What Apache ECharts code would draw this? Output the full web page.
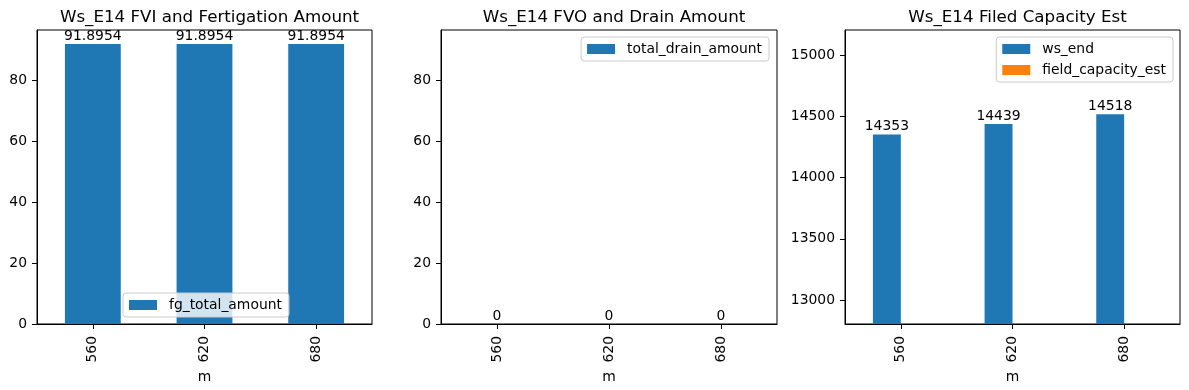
<!DOCTYPE html>
<html>
<head>
<meta charset="utf-8">
<script src="https://cdn.jsdelivr.net/npm/echarts@6/dist/echarts.min.js"></script>
<style>
html,body{margin:0;padding:0;background:#fff;}
#chart{width:1189px;height:390px;}
</style>
</head>
<body>
<div id="chart"></div>
<script>
const categories = ['560', '620', '680'];
const fgTotalAmount = [91.8954, 91.8954, 91.8954];
const totalDrainAmount = [0, 0, 0];
const wsEnd = [14353, 14439, 14518];
const fieldCapacityEst = [null, null, null];
const amountTicks = [0, 20, 40, 60, 80];
const capacityTicks = [13000, 13500, 14000, 14500, 15000];
const titles = ['Ws_E14 FVI and Fertigation Amount', 'Ws_E14 FVO and Drain Amount', 'Ws_E14 Filed Capacity Est'];

const FONT = 'DejaVu Sans';
const FS = 13.9;
const grids = [
  {left: 37, top: 30, width: 335, height: 294},
  {left: 441, top: 30, width: 336, height: 294},
  {left: 845, top: 30, width: 335, height: 294}
];
const yRanges = [[0, 96.49], [0, 96.49], [12804, 15207]];
const yTicks = [amountTicks, amountTicks, capacityTicks];

const chart = echarts.init(document.getElementById('chart'), null, {renderer: 'canvas'});

function legendBox(extra) {
  return Object.assign({
    orient: 'vertical',
    icon: 'rect',
    itemWidth: 28, itemHeight: 10,
    itemGap: 7,
    padding: [5, 7, 5, 6],
    borderColor: '#ccc', borderWidth: 1, borderRadius: 3,
    backgroundColor: 'rgba(255,255,255,0.8)',
    textStyle: {fontFamily: FONT, fontSize: FS, color: '#000', padding: [0, 0, 0, 7]},
    selectedMode: false
  }, extra);
}

const option = {
  animation: false,
  backgroundColor: '#fff',
  textStyle: {fontFamily: FONT, color: '#000'},
  title: titles.map((t, i) => ({
    text: t,
    left: grids[i].left + grids[i].width / 2,
    textAlign: 'center',
    top: 4,
    textStyle: {fontFamily: FONT, fontSize: 16.7, fontWeight: 'normal', color: '#000'}
  })),
  grid: grids.map(g => Object.assign({show: true, borderColor: '#000', borderWidth: 1, backgroundColor: 'transparent'}, g)),
  xAxis: grids.map((g, i) => ({
    type: 'category',
    gridIndex: i,
    data: categories,
    name: 'm',
    nameLocation: 'middle',
    nameGap: 35,
    nameTextStyle: {fontFamily: FONT, fontSize: FS, color: '#000'},
    axisLine: {show: true, lineStyle: {color: '#000', width: 1}},
    axisTick: {show: true, alignWithLabel: true, length: 5, inside: false, lineStyle: {color: '#000'}},
    axisLabel: {rotate: 90, margin: 12, fontFamily: FONT, fontSize: FS, color: '#000'},
    splitLine: {show: false}
  })),
  yAxis: grids.map((g, i) => ({
    type: 'value',
    gridIndex: i,
    min: yRanges[i][0],
    max: yRanges[i][1],
    axisLine: {show: true, lineStyle: {color: '#000', width: 1}},
    axisTick: {show: true, length: 5, lineStyle: {color: '#000'}, customValues: yTicks[i]},
    axisLabel: {margin: 10, fontFamily: FONT, fontSize: FS, color: '#000', customValues: yTicks[i],
      formatter: v => String(v)},
    splitLine: {show: false}
  })),
  legend: [
    legendBox({data: ['fg_total_amount'], left: 123, top: 293}),
    legendBox({data: ['total_drain_amount'], right: 420, top: 37}),
    legendBox({data: ['ws_end', 'field_capacity_est'], right: 16, top: 37})
  ],
  series: [
    {
      name: 'fg_total_amount', type: 'bar', xAxisIndex: 0, yAxisIndex: 0,
      data: fgTotalAmount, barWidth: '50%',
      itemStyle: {color: '#1f77b4'},
      label: {show: true, position: 'top', distance: 1, fontFamily: FONT, fontSize: FS, color: '#000'}
    },
    {
      name: 'total_drain_amount', type: 'bar', xAxisIndex: 1, yAxisIndex: 1,
      data: totalDrainAmount, barWidth: '50%',
      itemStyle: {color: '#1f77b4'},
      label: {show: true, position: 'top', distance: 1, fontFamily: FONT, fontSize: FS, color: '#000'}
    },
    {
      name: 'ws_end', type: 'bar', xAxisIndex: 2, yAxisIndex: 2,
      data: wsEnd, barWidth: '25%', barGap: '0%',
      itemStyle: {color: '#1f77b4'},
      label: {show: true, position: 'top', distance: 1, fontFamily: FONT, fontSize: FS, color: '#000'}
    },
    {
      name: 'field_capacity_est', type: 'bar', xAxisIndex: 2, yAxisIndex: 2,
      data: fieldCapacityEst, barWidth: '25%', barGap: '0%',
      itemStyle: {color: '#ff7f0e'},
      label: {show: true, position: 'top', distance: 1, fontFamily: FONT, fontSize: FS, color: '#000'}
    }
  ]
};
chart.setOption(option);
</script>
</body>
</html>
